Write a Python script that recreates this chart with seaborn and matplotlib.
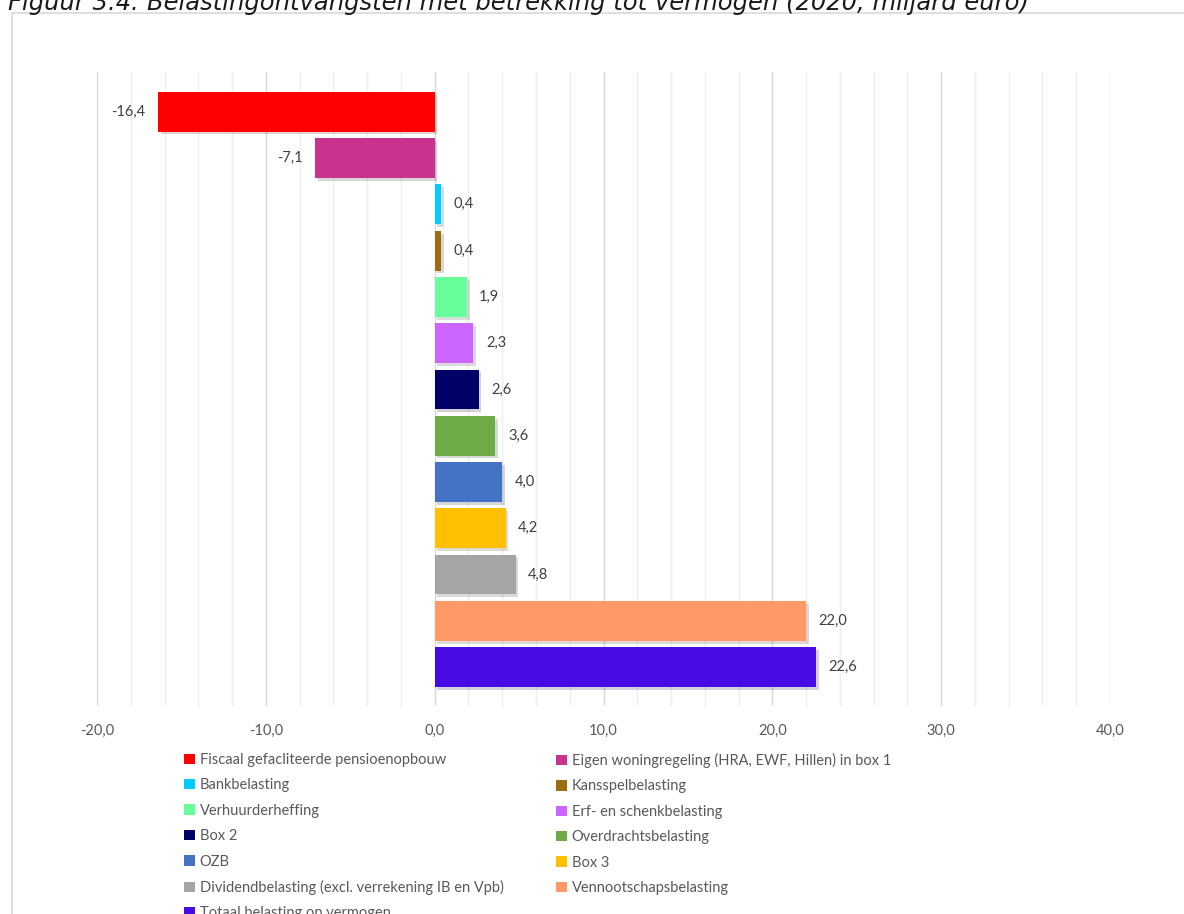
import matplotlib
matplotlib.use('Agg')
import matplotlib.pyplot as plt
import matplotlib.patheffects as pe
from matplotlib.patches import Rectangle, Patch
import seaborn as sns
import numpy as np
import pandas as pd

categorieen = [
    'Fiscaal gefacliteerde pensioenopbouw',
    'Eigen woningregeling (HRA, EWF, Hillen) in box 1',
    'Bankbelasting',
    'Kansspelbelasting',
    'Verhuurderheffing',
    'Erf- en schenkbelasting',
    'Box 2',
    'Overdrachtsbelasting',
    'OZB',
    'Box 3',
    'Dividendbelasting (excl. verrekening IB en Vpb)',
    'Vennootschapsbelasting',
    'Totaal belasting op vermogen',
]
waarden = [-16.4, -7.1, 0.4, 0.4, 1.9, 2.3, 2.6, 3.6, 4.0, 4.2, 4.8, 22.0, 22.6]
kleuren = ['#FF0000', '#C9338F', '#00CCFF', '#9C6B12', '#66FF99', '#CC66FF',
           '#000066', '#6CAB45', '#4472C4', '#FFC000', '#A5A5A5', '#FF9966', '#470CE3']
x_ticks = [-20, -10, 0, 10, 20, 30, 40]

df = pd.DataFrame({'categorie': categorieen, 'waarde': waarden})

W, H = 1184, 914
fig = plt.figure(figsize=(W / 100, H / 100), dpi=100)
ax = fig.add_axes([97 / W, 1 - 706 / H, (1110 - 97) / W, (706 - 72) / H])

sns.barplot(data=df, x='waarde', y='categorie', hue='categorie', palette=kleuren,
            dodge=False, width=0.86, orient='h', legend=False, ax=ax,
            saturation=1)

schaduw = [pe.SimplePatchShadow(offset=(2, -2), alpha=0.18), pe.Normal()]
for p in ax.patches:
    p.set_path_effects(schaduw)
    p.set_edgecolor('none')

for c in ax.containers:
    ax.bar_label(c, labels=[f'{v:.1f}'.replace('.', ',') for v in c.datavalues],
                 padding=9, fontsize=10.5, color='#404040', family='Lato')

ax.set_xlim(-20, 40)
ax.set_ylim(12.84, -0.86)
ax.set_xticks(x_ticks)
ax.set_xticklabels([f'{t:.1f}'.replace('.', ',') for t in x_ticks],
                   fontsize=10.5, color='#595959', family='Lato')
ax.set_xticks(np.arange(-20, 41, 2), minor=True)
ax.tick_params(axis='x', which='both', length=0, pad=13)
ax.set_yticks([])
ax.set_xlabel('')
ax.set_ylabel('')
ax.grid(axis='x', which='minor', color='#EEEEEE', linewidth=1)
ax.grid(axis='x', which='major', color='#D9D9D9', linewidth=1)
ax.set_axisbelow(True)
for s in ax.spines.values():
    s.set_visible(False)

# legenda in twee kolommen, rij voor rij
handles = [Patch(facecolor=k, edgecolor='none') for k in kleuren]
leg_kw = dict(frameon=False, handlelength=0.72, handleheight=0.72,
              handletextpad=0.35, labelspacing=0.78, borderpad=0, borderaxespad=0,
              prop={'family': 'Lato', 'size': 10.5})
leg1 = fig.legend(handles[0::2], categorieen[0::2], loc='upper left',
                  bbox_to_anchor=(184 / W, 1 - 753 / H), **leg_kw)
for t in leg1.get_texts():
    t.set_color('#595959')
leg2 = fig.legend(handles[1::2], categorieen[1::2], loc='upper left',
                  bbox_to_anchor=(556 / W, 1 - 753 / H), **leg_kw)
for t in leg2.get_texts():
    t.set_color('#595959')

# kader en titel
fig.patches.append(Rectangle((11.5 / W, -0.05), 1.2, 1 - 13 / H + 0.05,
                             transform=fig.transFigure, fill=False,
                             edgecolor='#D9D9D9', linewidth=1.2))
fig.text(8 / W, 1 - 10 / H,
         'Figuur 3.4: Belastingontvangsten met betrekking tot vermogen (2020, miljard euro)',
         fontsize=17.5, style='italic', color='#1A1A1A', va='baseline', ha='left')

fig.savefig('out.png', dpi=100)
